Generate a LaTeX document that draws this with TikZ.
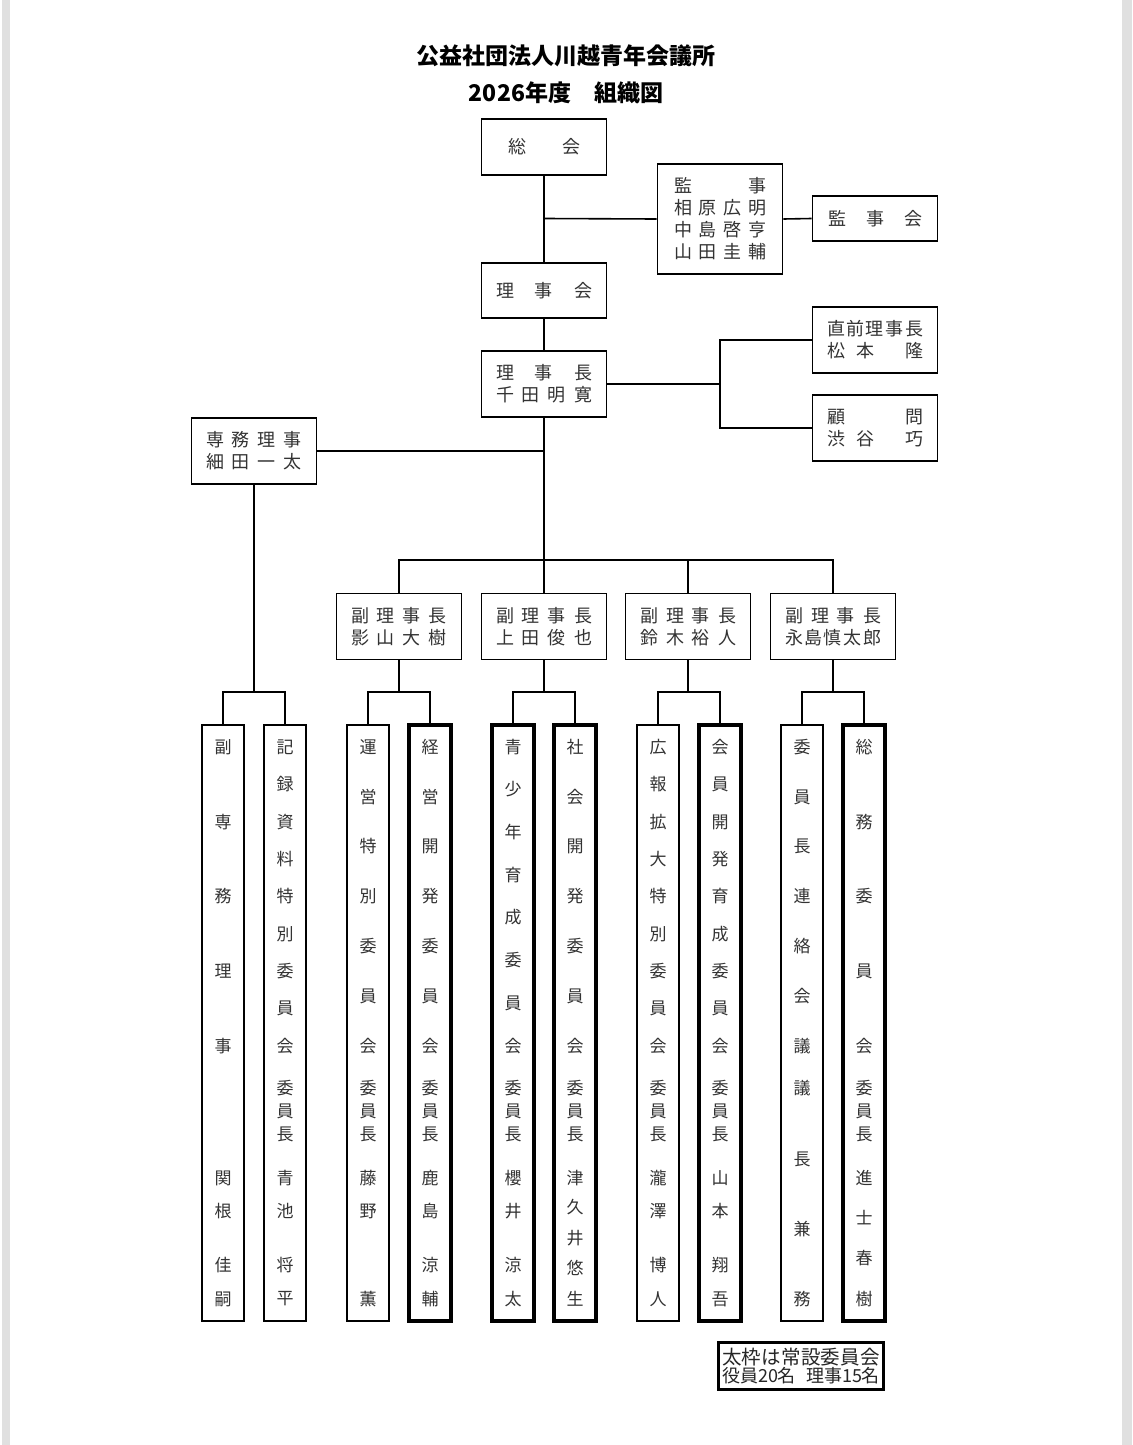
\documentclass[tikz,border=0pt]{standalone}
\usepackage{fontspec}
\setmainfont{Noto Sans CJK JP}
\newcommand\mycol[4]{%
  \node[#3, minimum width=42, minimum height=596] (#1) at (#2,1023) {};
  \foreach \yy/\cc [count=\i] in {#4} \node[ch] (#1-\i) at (#2,\yy) {\cc};
}
\begin{document}
\begin{tikzpicture}[x=1pt,y=-1pt,
  box/.style={draw=black, line width=1.6pt, inner sep=0pt, align=center,
    font=\fontsize{18}{22}\selectfont, text=black!80},
  thickbox/.style={draw=black, line width=3.6pt, inner sep=0pt},
  thinbox/.style={draw=black, line width=1.6pt, inner sep=0pt},
  ch/.style={inner sep=0pt, font=\fontsize{17}{17}\selectfont, text=black!80},
  conn/.style={line width=1.6pt},
  ttl/.style={inner sep=0pt, font=\fontsize{23}{23}\selectfont\bfseries}]

\fill[white] (0,0) rectangle (1132,1445);
\fill[black!12] (2,0) rectangle (10,1445);
\fill[black!12] (1122,0) rectangle (1132,1445);
\useasboundingbox (0,0) rectangle (1132,1445);

% titles
\node[ttl] (title1) at (566,56) {公益社団法人川越青年会議所};
\node[ttl] (title2) at (566,93) {2026年度　組織図};

% upper boxes
\node[box, minimum width=125, minimum height=56] (soukai) at (544,147)
  {\makebox[72pt]{総\hfill 会}};
\node[box, minimum width=125, minimum height=110] (kanji) at (720,219)
  {\makebox[92pt]{監\hfill 事}\\
   \makebox[92pt]{相\hfill 原\hfill 広\hfill 明}\\
   \makebox[92pt]{中\hfill 島\hfill 啓\hfill 亨}\\
   \makebox[92pt]{山\hfill 田\hfill 圭\hfill 輔}};
\node[box, minimum width=125, minimum height=45] (kanjikai) at (875,218.5)
  {\makebox[94pt]{監\hfill 事\hfill 会}};
\node[box, minimum width=125, minimum height=55] (rijikai) at (544,290.5)
  {\makebox[96pt]{理\hfill 事\hfill 会}};
\node[box, minimum width=125, minimum height=66] (rijicho) at (544,384)
  {\makebox[96pt]{理\hfill 事\hfill 長}\\
   \makebox[96pt]{千\hfill 田\hfill 明\hfill 寛}};
\node[box, minimum width=125, minimum height=66] (chokuzen) at (875,340)
  {\makebox[96pt]{直\hfill 前\hfill 理\hfill 事\hfill 長}\\
   \makebox[96pt]{松\hspace{11pt}本\hfill 隆}};
\node[box, minimum width=125, minimum height=66] (komon) at (875,428)
  {\makebox[96pt]{顧\hfill 問}\\
   \makebox[96pt]{渋\hspace{11pt}谷\hfill 巧}};
\node[box, minimum width=125, minimum height=66] (senmu) at (254,451)
  {\makebox[96pt]{専\hfill 務\hfill 理\hfill 事}\\
   \makebox[96pt]{細\hfill 田\hfill 一\hfill 太}};

% vice presidents
\node[box, minimum width=125, minimum height=66] (vp1) at (399,626.5)
  {\makebox[96pt]{副\hfill 理\hfill 事\hfill 長}\\
   \makebox[96pt]{影\hfill 山\hfill 大\hfill 樹}};
\node[box, minimum width=125, minimum height=66] (vp2) at (544,626.5)
  {\makebox[96pt]{副\hfill 理\hfill 事\hfill 長}\\
   \makebox[96pt]{上\hfill 田\hfill 俊\hfill 也}};
\node[box, minimum width=125, minimum height=66] (vp3) at (688,626.5)
  {\makebox[96pt]{副\hfill 理\hfill 事\hfill 長}\\
   \makebox[96pt]{鈴\hfill 木\hfill 裕\hfill 人}};
\node[box, minimum width=125, minimum height=66] (vp4) at (833,626.5)
  {\makebox[96pt]{副\hfill 理\hfill 事\hfill 長}\\
   \makebox[96pt]{永\hfill 島\hfill 慎\hfill 太\hfill 郎}};

% columns
\mycol{c1}{223}{thinbox}{747/副,822/専,896/務,971/理,1046/事,1178/関,1211/根,1265/佳,1299/嗣}
\mycol{c2}{285}{thinbox}{747/記,784/録,822/資,859/料,896/特,934/別,971/委,1008/員,1046/会,1088/委,1111/員,1134/長,1178/青,1211/池,1265/将,1299/平}
\mycol{c3}{368}{thinbox}{747/運,797/営,846/特,896/別,946/委,996/員,1046/会,1088/委,1111/員,1134/長,1178/藤,1211/野,1299/薫}
\mycol{c4}{430}{thickbox}{747/経,797/営,846/開,896/発,946/委,996/員,1046/会,1088/委,1111/員,1134/長,1178/鹿,1211/島,1265/涼,1299/輔}
\mycol{c5}{513}{thickbox}{747/青,789/少,832/年,875/育,917/成,960/委,1003/員,1046/会,1088/委,1111/員,1134/長,1178/櫻,1211/井,1265/涼,1299/太}
\mycol{c6}{575}{thickbox}{747/社,797/会,846/開,896/発,946/委,996/員,1046/会,1088/委,1111/員,1134/長,1178/津,1207/久,1238/井,1268/悠,1299/生}
\mycol{c7}{658}{thinbox}{747/広,784/報,822/拡,859/大,896/特,934/別,971/委,1008/員,1046/会,1088/委,1111/員,1134/長,1178/瀧,1211/澤,1265/博,1299/人}
\mycol{c8}{720}{thickbox}{747/会,784/員,822/開,859/発,896/育,934/成,971/委,1008/員,1046/会,1088/委,1111/員,1134/長,1178/山,1211/本,1265/翔,1299/吾}
\mycol{c9}{802}{thinbox}{747/委,797/員,846/長,896/連,946/絡,996/会,1046/議,1088/議,1159/長,1229/兼,1299/務}
\mycol{c10}{864}{thickbox}{747/総,822/務,896/委,971/員,1046/会,1088/委,1111/員,1134/長,1178/進,1218/士,1258/春,1299/樹}

% legend
\node[draw=black, line width=3pt, inner sep=0pt, minimum width=165, minimum height=47,
  align=center, text=black!85] (legend) at (801,1366)
  {{\fontsize{19.5}{23}\selectfont\makebox[158pt]{太\hfill 枠\hfill は\hfill 常\hfill 設\hfill 委\hfill 員\hfill 会}}\\
   {\fontsize{18}{23}\selectfont\makebox[158pt]{役員20名\hfill 理事15名}}};

% connectors
\coordinate (kj) at (544,218.5);
\coordinate (rj) at (720,384);
\coordinate (sm) at (544,451);
\coordinate (bus) at (544,560);
\draw[conn] (soukai.south) -- (rijikai.north);
\draw[conn] (kj) -- (kanji.west);
\draw[conn] (kanji.east) -- (kanjikai.west);
\draw[conn] (rijikai.south) -- (rijicho.north);
\draw[conn] (rijicho.east) -- (rj);
\draw[conn] (chokuzen.west) -| (rj) |- (komon.west);
\draw[conn] (rijicho.south) -- (bus);
\draw[conn] (senmu.east) -- (sm);
\draw[conn] (vp1.north) |- (bus) -| (vp4.north);
\draw[conn] (vp2.north) -- (bus);
\draw[conn] (vp3.north) -- (vp3.north |- bus);

\coordinate (g0) at (254,692);
\coordinate (g1) at (399,692);
\coordinate (g2) at (544,692);
\coordinate (g3) at (688,692);
\coordinate (g4) at (833,692);
\draw[conn] (senmu.south) -- (g0);
\draw[conn] (c1.north) |- (g0) -| (c2.north);
\draw[conn] (vp1.south) -- (g1);
\draw[conn] (c3.north) |- (g1) -| (c4.north);
\draw[conn] (vp2.south) -- (g2);
\draw[conn] (c5.north) |- (g2) -| (c6.north);
\draw[conn] (vp3.south) -- (g3);
\draw[conn] (c7.north) |- (g3) -| (c8.north);
\draw[conn] (vp4.south) -- (g4);
\draw[conn] (c9.north) |- (g4) -| (c10.north);
\end{tikzpicture}
\end{document}
